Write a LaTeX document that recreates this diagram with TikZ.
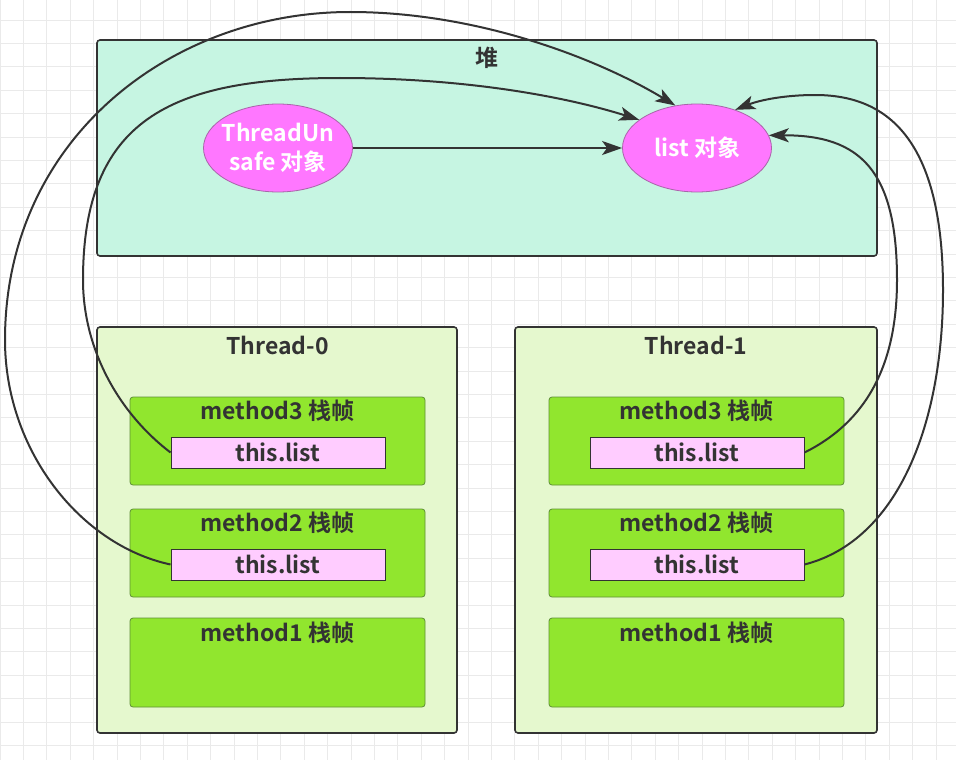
\documentclass[tikz,border=0pt]{standalone}
\usepackage{fontspec}
\setmainfont{Noto Sans CJK SC}[BoldFont={Noto Sans CJK SC Bold}]
\usetikzlibrary{arrows.meta,shapes.geometric}
\definecolor{edgegray}{HTML}{333333}
\definecolor{textgray}{HTML}{333333}
\definecolor{gridgray}{HTML}{EAEAEA}
\definecolor{heapfill}{HTML}{C6F5E2}
\definecolor{threadfill}{HTML}{E5F8CE}
\definecolor{framefill}{HTML}{91E62E}
\definecolor{frameedge}{HTML}{5E8F36}
\definecolor{reffill}{HTML}{FFCCFF}
\definecolor{objfill}{HTML}{FF77FF}
\definecolor{objedge}{HTML}{A865A8}

\begin{document}
\begin{tikzpicture}[x=1pt, y=-1pt,
    box/.style={draw=edgegray, line width=1.6pt, rounded corners=3pt, inner sep=0pt, outer sep=0pt},
    frame/.style={draw=frameedge, fill=framefill, line width=0.8pt, rounded corners=3pt, minimum width=295pt, minimum height=88pt, inner sep=0pt},
    ref/.style={draw=edgegray, fill=reffill, line width=1pt, minimum width=214pt, minimum height=31pt, inner sep=0pt, text=textgray, font=\fontsize{23}{26}\selectfont\bfseries},
    obj/.style={ellipse, draw=objedge, fill=objfill, line width=0.8pt, minimum width=149pt, minimum height=88pt, inner sep=0pt},
    objtext/.style={text=white, align=center, inner sep=0pt, font=\fontsize{23}{29}\selectfont\bfseries},
    title/.style={text=textgray, inner sep=0pt, font=\fontsize{23}{26}\selectfont\bfseries},
    arr/.style={draw=edgegray, line width=2pt, -{Stealth[length=20pt,width=14pt,inset=5pt]}},
    gridline/.style={draw=gridgray, line width=0.7pt}]

    % background grid
    \fill[white] (0,0) rectangle (956,760);
    \useasboundingbox (0,0) rectangle (956,760);
    \foreach \i in {0,...,40} \draw[gridline] (\i*23.4,0) -- (\i*23.4,760);
    \foreach \j in {0,...,31} \draw[gridline] (0,20+\j*23.4) -- (956,20+\j*23.4);

    % heap
    \node[box, fill=heapfill, minimum width=780pt, minimum height=216pt] (heap) at (487,148) {};
    \node[title] (heaplbl) at (487,58) {堆};
    \node[obj, label={[objtext]center:ThreadUn\\safe 对象}] (tus) at (278,148) {};
    \node[obj, label={[objtext]center:list 对象}] (lst) at (697,148) {};

    % threads
    \node[box, fill=threadfill, minimum width=360pt, minimum height=406pt] (tzero) at (277,530) {};
    \node[title] (tzerolbl) at (277.5,345) {Thread-0};
    \node[box, fill=threadfill, minimum width=362pt, minimum height=406pt] (tone) at (696,530) {};
    \node[title] (tonelbl) at (696,345) {Thread-1};

    % stack frames
    \node[frame] (t0m3) at (277.5,441) {};
    \node[frame] (t0m2) at (277.5,553) {};
    \node[frame, minimum height=89pt] (t0m1) at (277.5,662.5) {};
    \node[title] (t0m3lbl) at (277.5,411) {method3 栈帧};
    \node[title] (t0m2lbl) at (277.5,523) {method2 栈帧};
    \node[title] (t0m1lbl) at (277.5,633) {method1 栈帧};
    \node[ref] (t0ref3) at (278,452.5) {this.list};
    \node[ref] (t0ref2) at (278,564.5) {this.list};

    \node[frame] (t1m3) at (696.5,441) {};
    \node[frame] (t1m2) at (696.5,553) {};
    \node[frame, minimum height=89pt] (t1m1) at (696.5,662.5) {};
    \node[title] (t1m3lbl) at (696.5,411) {method3 栈帧};
    \node[title] (t1m2lbl) at (696.5,523) {method2 栈帧};
    \node[title] (t1m1lbl) at (696.5,633) {method1 栈帧};
    \node[ref] (t1ref3) at (697,452.5) {this.list};
    \node[ref] (t1ref2) at (697,564.5) {this.list};

    % references
    \draw[arr] (tus) -- (lst);
    \draw[arr] (t0ref3.west) .. controls (115,410) and (83,345) .. (83,280)
        .. controls (83,120) and (170,78) .. (340,78)
        .. controls (460,78) and (560,95) .. (lst.154);
    \draw[arr] (t0ref2.west) .. controls (80,545) and (5,450) .. (5,340)
        .. controls (5,140) and (170,12) .. (350,12)
        .. controls (480,12) and (600,60) .. (lst.117);
    \draw[arr] (t1ref3.east) .. controls (870,420) and (897,360) .. (897,280)
        .. controls (897,170) and (860,135) .. (lst.10);
    \draw[arr] (t1ref2.east) .. controls (900,540) and (943,420) .. (943,290)
        .. controls (943,130) and (880,95) .. (815,95)
        .. controls (785,95) and (760,100) .. (lst.45);
\end{tikzpicture}
\end{document}
